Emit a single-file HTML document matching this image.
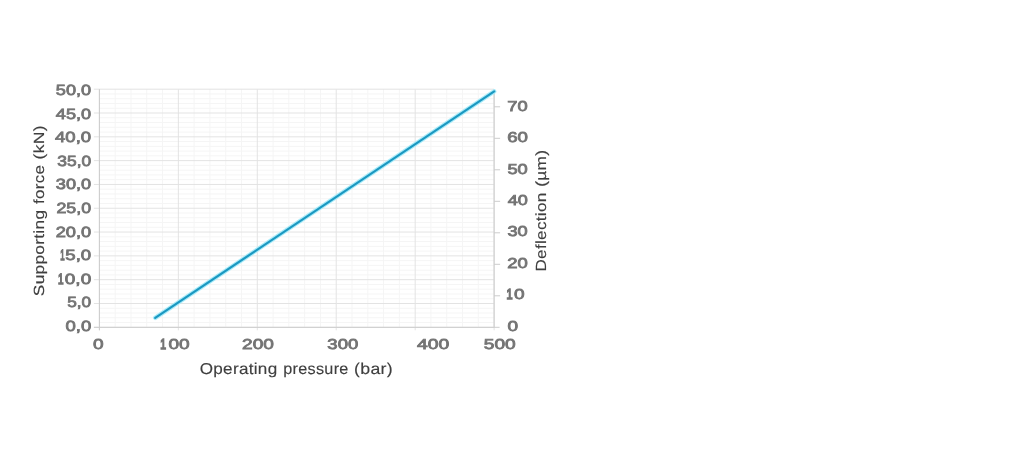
<!DOCTYPE html>
<html><head><meta charset="utf-8"><style>
html,body{margin:0;padding:0;background:#fff;}
body{width:1024px;height:457px;overflow:hidden;}
svg{display:block;filter:blur(0.4px);}
text{font-kerning:none;text-rendering:geometricPrecision;}
.l{font-family:"Liberation Sans",sans-serif;font-weight:normal;fill:#747474;stroke:#747474;stroke-width:0.8px;}
.l1{stroke-width:1.5px;}
.t{font-family:"Liberation Sans",sans-serif;font-weight:normal;fill:#3f3f3f;stroke:#3f3f3f;stroke-width:0.15px;}
</style></head><body>
<svg width="1024" height="457" viewBox="0 0 1024 457">
<g stroke-width="1">
<line x1="99.40" y1="322.54" x2="494.10" y2="322.54" stroke="#f5f5f5"/>
<line x1="99.40" y1="317.78" x2="494.10" y2="317.78" stroke="#f5f5f5"/>
<line x1="99.40" y1="313.01" x2="494.10" y2="313.01" stroke="#f5f5f5"/>
<line x1="99.40" y1="308.25" x2="494.10" y2="308.25" stroke="#f5f5f5"/>
<line x1="99.40" y1="298.73" x2="494.10" y2="298.73" stroke="#f5f5f5"/>
<line x1="99.40" y1="293.97" x2="494.10" y2="293.97" stroke="#f5f5f5"/>
<line x1="99.40" y1="289.20" x2="494.10" y2="289.20" stroke="#f5f5f5"/>
<line x1="99.40" y1="284.44" x2="494.10" y2="284.44" stroke="#f5f5f5"/>
<line x1="99.40" y1="274.92" x2="494.10" y2="274.92" stroke="#f5f5f5"/>
<line x1="99.40" y1="270.16" x2="494.10" y2="270.16" stroke="#f5f5f5"/>
<line x1="99.40" y1="265.39" x2="494.10" y2="265.39" stroke="#f5f5f5"/>
<line x1="99.40" y1="260.63" x2="494.10" y2="260.63" stroke="#f5f5f5"/>
<line x1="99.40" y1="251.11" x2="494.10" y2="251.11" stroke="#f5f5f5"/>
<line x1="99.40" y1="246.35" x2="494.10" y2="246.35" stroke="#f5f5f5"/>
<line x1="99.40" y1="241.58" x2="494.10" y2="241.58" stroke="#f5f5f5"/>
<line x1="99.40" y1="236.82" x2="494.10" y2="236.82" stroke="#f5f5f5"/>
<line x1="99.40" y1="227.30" x2="494.10" y2="227.30" stroke="#f5f5f5"/>
<line x1="99.40" y1="222.54" x2="494.10" y2="222.54" stroke="#f5f5f5"/>
<line x1="99.40" y1="217.77" x2="494.10" y2="217.77" stroke="#f5f5f5"/>
<line x1="99.40" y1="213.01" x2="494.10" y2="213.01" stroke="#f5f5f5"/>
<line x1="99.40" y1="203.49" x2="494.10" y2="203.49" stroke="#f5f5f5"/>
<line x1="99.40" y1="198.73" x2="494.10" y2="198.73" stroke="#f5f5f5"/>
<line x1="99.40" y1="193.96" x2="494.10" y2="193.96" stroke="#f5f5f5"/>
<line x1="99.40" y1="189.20" x2="494.10" y2="189.20" stroke="#f5f5f5"/>
<line x1="99.40" y1="179.68" x2="494.10" y2="179.68" stroke="#f5f5f5"/>
<line x1="99.40" y1="174.92" x2="494.10" y2="174.92" stroke="#f5f5f5"/>
<line x1="99.40" y1="170.15" x2="494.10" y2="170.15" stroke="#f5f5f5"/>
<line x1="99.40" y1="165.39" x2="494.10" y2="165.39" stroke="#f5f5f5"/>
<line x1="99.40" y1="155.87" x2="494.10" y2="155.87" stroke="#f5f5f5"/>
<line x1="99.40" y1="151.11" x2="494.10" y2="151.11" stroke="#f5f5f5"/>
<line x1="99.40" y1="146.34" x2="494.10" y2="146.34" stroke="#f5f5f5"/>
<line x1="99.40" y1="141.58" x2="494.10" y2="141.58" stroke="#f5f5f5"/>
<line x1="99.40" y1="132.06" x2="494.10" y2="132.06" stroke="#f5f5f5"/>
<line x1="99.40" y1="127.30" x2="494.10" y2="127.30" stroke="#f5f5f5"/>
<line x1="99.40" y1="122.53" x2="494.10" y2="122.53" stroke="#f5f5f5"/>
<line x1="99.40" y1="117.77" x2="494.10" y2="117.77" stroke="#f5f5f5"/>
<line x1="99.40" y1="108.25" x2="494.10" y2="108.25" stroke="#f5f5f5"/>
<line x1="99.40" y1="103.49" x2="494.10" y2="103.49" stroke="#f5f5f5"/>
<line x1="99.40" y1="98.72" x2="494.10" y2="98.72" stroke="#f5f5f5"/>
<line x1="99.40" y1="93.96" x2="494.10" y2="93.96" stroke="#f5f5f5"/>
<line x1="115.19" y1="89.20" x2="115.19" y2="327.30" stroke="#f5f5f5"/>
<line x1="130.98" y1="89.20" x2="130.98" y2="327.30" stroke="#f5f5f5"/>
<line x1="146.76" y1="89.20" x2="146.76" y2="327.30" stroke="#f5f5f5"/>
<line x1="162.55" y1="89.20" x2="162.55" y2="327.30" stroke="#f5f5f5"/>
<line x1="194.13" y1="89.20" x2="194.13" y2="327.30" stroke="#f5f5f5"/>
<line x1="209.92" y1="89.20" x2="209.92" y2="327.30" stroke="#f5f5f5"/>
<line x1="225.70" y1="89.20" x2="225.70" y2="327.30" stroke="#f5f5f5"/>
<line x1="241.49" y1="89.20" x2="241.49" y2="327.30" stroke="#f5f5f5"/>
<line x1="273.07" y1="89.20" x2="273.07" y2="327.30" stroke="#f5f5f5"/>
<line x1="288.86" y1="89.20" x2="288.86" y2="327.30" stroke="#f5f5f5"/>
<line x1="304.64" y1="89.20" x2="304.64" y2="327.30" stroke="#f5f5f5"/>
<line x1="320.43" y1="89.20" x2="320.43" y2="327.30" stroke="#f5f5f5"/>
<line x1="352.01" y1="89.20" x2="352.01" y2="327.30" stroke="#f5f5f5"/>
<line x1="367.80" y1="89.20" x2="367.80" y2="327.30" stroke="#f5f5f5"/>
<line x1="383.58" y1="89.20" x2="383.58" y2="327.30" stroke="#f5f5f5"/>
<line x1="399.37" y1="89.20" x2="399.37" y2="327.30" stroke="#f5f5f5"/>
<line x1="430.95" y1="89.20" x2="430.95" y2="327.30" stroke="#f5f5f5"/>
<line x1="446.74" y1="89.20" x2="446.74" y2="327.30" stroke="#f5f5f5"/>
<line x1="462.52" y1="89.20" x2="462.52" y2="327.30" stroke="#f5f5f5"/>
<line x1="478.31" y1="89.20" x2="478.31" y2="327.30" stroke="#f5f5f5"/>
<line x1="93.90" y1="327.30" x2="494.10" y2="327.30" stroke="#e3e3e3"/>
<line x1="93.90" y1="303.49" x2="494.10" y2="303.49" stroke="#e3e3e3"/>
<line x1="93.90" y1="279.68" x2="494.10" y2="279.68" stroke="#e3e3e3"/>
<line x1="93.90" y1="255.87" x2="494.10" y2="255.87" stroke="#e3e3e3"/>
<line x1="93.90" y1="232.06" x2="494.10" y2="232.06" stroke="#e3e3e3"/>
<line x1="93.90" y1="208.25" x2="494.10" y2="208.25" stroke="#e3e3e3"/>
<line x1="93.90" y1="184.44" x2="494.10" y2="184.44" stroke="#e3e3e3"/>
<line x1="93.90" y1="160.63" x2="494.10" y2="160.63" stroke="#e3e3e3"/>
<line x1="93.90" y1="136.82" x2="494.10" y2="136.82" stroke="#e3e3e3"/>
<line x1="93.90" y1="113.01" x2="494.10" y2="113.01" stroke="#e3e3e3"/>
<line x1="93.90" y1="89.20" x2="494.10" y2="89.20" stroke="#e3e3e3"/>
<line x1="99.40" y1="89.20" x2="99.40" y2="330.30" stroke="#e3e3e3"/>
<line x1="178.34" y1="89.20" x2="178.34" y2="330.30" stroke="#e3e3e3"/>
<line x1="257.28" y1="89.20" x2="257.28" y2="330.30" stroke="#e3e3e3"/>
<line x1="336.22" y1="89.20" x2="336.22" y2="330.30" stroke="#e3e3e3"/>
<line x1="415.16" y1="89.20" x2="415.16" y2="330.30" stroke="#e3e3e3"/>
<line x1="494.10" y1="89.20" x2="494.10" y2="330.30" stroke="#e3e3e3"/>
<line x1="99.40" y1="89.20" x2="99.40" y2="330.30" stroke="#cccccc"/>
<line x1="494.10" y1="89.20" x2="494.10" y2="327.30" stroke="#cccccc"/>
<line x1="93.90" y1="327.30" x2="499.60" y2="327.30" stroke="#cccccc"/>
<line x1="494.10" y1="295.80" x2="500.10" y2="295.80" stroke="#cccccc"/>
<line x1="494.10" y1="264.30" x2="500.10" y2="264.30" stroke="#cccccc"/>
<line x1="494.10" y1="232.80" x2="500.10" y2="232.80" stroke="#cccccc"/>
<line x1="494.10" y1="201.30" x2="500.10" y2="201.30" stroke="#cccccc"/>
<line x1="494.10" y1="169.80" x2="500.10" y2="169.80" stroke="#cccccc"/>
<line x1="494.10" y1="138.30" x2="500.10" y2="138.30" stroke="#cccccc"/>
<line x1="494.10" y1="106.80" x2="500.10" y2="106.80" stroke="#cccccc"/>
</g>
<line x1="155.2" y1="317.9" x2="494.2" y2="91.4" stroke="#a8ebf9" stroke-width="4.4" stroke-linecap="round"/>
<line x1="155.2" y1="317.9" x2="494.2" y2="91.4" stroke="#1b98c1" stroke-width="2.2" stroke-linecap="round"/>
<text class="l" transform="translate(65.43 330.95) scale(1.2556 1)" font-size="14.75">0,0</text>
<text class="l" transform="translate(67.16 307.35) scale(1.1686 1)" font-size="14.75">5,0</text>
<text class="l l1" transform="translate(57.99 283.76) scale(0.6662 1)" font-size="14.97">1</text>
<text class="l" transform="translate(64.81 283.76) scale(1.2866 1)" font-size="14.75">0,0</text>
<text class="l l1" transform="translate(60.35 260.16) scale(0.5267 1)" font-size="14.97">1</text>
<text class="l" transform="translate(65.30 260.16) scale(1.2617 1)" font-size="14.75">5,0</text>
<text class="l" transform="translate(55.63 236.57) scale(1.2376 1)" font-size="14.75">20,0</text>
<text class="l" transform="translate(56.45 212.97) scale(1.2084 1)" font-size="14.75">25,0</text>
<text class="l" transform="translate(55.86 189.38) scale(1.2295 1)" font-size="14.75">30,0</text>
<text class="l" transform="translate(57.29 165.78) scale(1.1787 1)" font-size="14.75">35,0</text>
<text class="l" transform="translate(55.02 142.19) scale(1.2592 1)" font-size="14.75">40,0</text>
<text class="l" transform="translate(55.83 118.59) scale(1.2304 1)" font-size="14.75">45,0</text>
<text class="l" transform="translate(55.82 95.00) scale(1.2308 1)" font-size="14.75">50,0</text>
<text class="l" transform="translate(93.01 348.60) scale(1.3292 1)" font-size="14.32">0</text>
<text class="l l1" transform="translate(160.15 348.60) scale(0.7181 1)" font-size="14.54">1</text>
<text class="l" transform="translate(168.51 348.60) scale(1.3301 1)" font-size="14.32">00</text>
<text class="l" transform="translate(242.09 348.60) scale(1.3310 1)" font-size="14.32">200</text>
<text class="l" transform="translate(327.34 348.60) scale(1.2944 1)" font-size="14.32">300</text>
<text class="l" transform="translate(416.91 348.60) scale(1.3518 1)" font-size="14.32">400</text>
<text class="l" transform="translate(483.78 348.60) scale(1.3355 1)" font-size="14.32">500</text>
<text class="l" transform="translate(507.41 330.65) scale(1.3292 1)" font-size="14.32">0</text>
<text class="l l1" transform="translate(506.52 299.25) scale(0.7500 1)" font-size="14.54">1</text>
<text class="l" transform="translate(514.01 299.25) scale(1.3292 1)" font-size="14.32">0</text>
<text class="l" transform="translate(507.22 267.85) scale(1.2901 1)" font-size="14.32">20</text>
<text class="l" transform="translate(507.45 236.45) scale(1.2749 1)" font-size="14.32">30</text>
<text class="l" transform="translate(507.73 205.05) scale(1.2631 1)" font-size="14.32">40</text>
<text class="l" transform="translate(507.42 173.65) scale(1.2773 1)" font-size="14.32">50</text>
<text class="l" transform="translate(507.20 142.25) scale(1.3043 1)" font-size="14.32">60</text>
<text class="l" transform="translate(507.21 110.85) scale(1.2776 1)" font-size="14.32">70</text>
<text class="t" transform="translate(199.74 374.00) scale(1.0810 1)" font-size="15.80" letter-spacing="0.278">Operating</text>
<text class="t" transform="translate(283.21 374.00) scale(1.0259 1)" font-size="15.80" letter-spacing="0.292">pressure</text>
<text class="t" transform="translate(354.05 374.00) scale(1.1210 1)" font-size="15.80" letter-spacing="0.268">(bar)</text>
<text class="t" transform="translate(44.20 296.13) rotate(-90) scale(1.1743 1)" font-size="14.70" letter-spacing="0.255">Supporting</text>
<text class="t" transform="translate(44.20 203.89) rotate(-90) scale(1.1534 1)" font-size="14.70" letter-spacing="0.260">force</text>
<text class="t" transform="translate(44.20 159.44) rotate(-90) scale(1.1915 1)" font-size="14.70" letter-spacing="0.252">(kN)</text>
<text class="t" transform="translate(545.50 271.55) rotate(-90) scale(1.1644 1)" font-size="14.70" letter-spacing="0.258">Deflection</text>
<text class="t" transform="translate(545.50 186.72) rotate(-90) scale(1.1749 1)" font-size="14.70" letter-spacing="0.255">(µm)</text>
</svg>
</body></html>
